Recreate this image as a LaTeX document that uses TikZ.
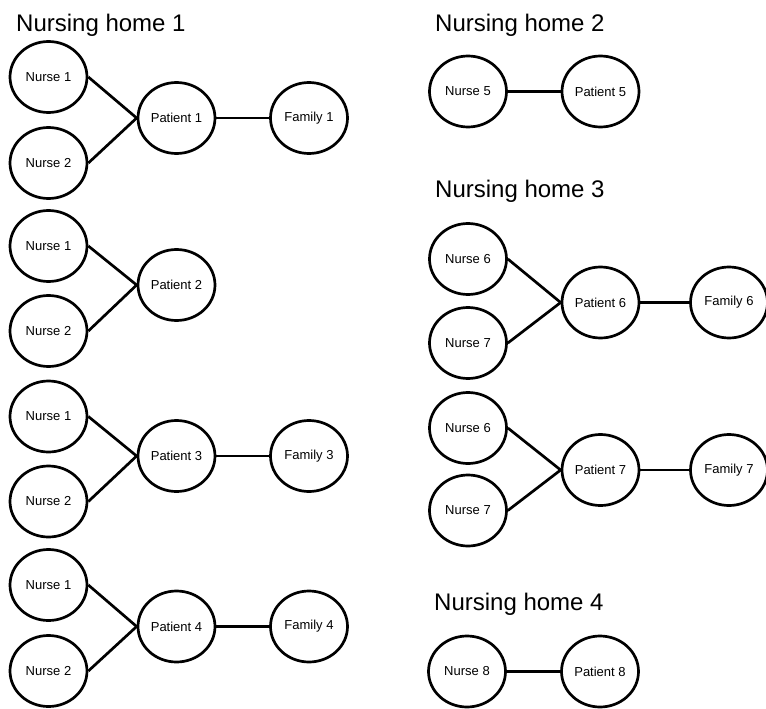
\documentclass[tikz,border=0pt]{standalone}
\usepackage{fontspec}
\setmainfont{Liberation Sans}
\usetikzlibrary{shapes.geometric}
\begin{document}
\begin{tikzpicture}[x=1pt,y=-1pt,
  person/.style={ellipse,draw=black,line width=2.7pt,minimum width=77pt,minimum height=71pt,inner sep=0pt,font=\fontsize{13}{15}\selectfont},
  title/.style={anchor=base west,inner sep=0pt,font=\fontsize{24}{28}\selectfont},
  link/.style={line width=2.7pt}]
\useasboundingbox (0,0) rectangle (766,709);
% Left column
\node[title] (t1) at (16,32) {Nursing home 1};
% group 1
\node[person] (a1) at (48.5,77) {Nurse 1};
\node[person] (a2) at (48.5,163) {Nurse 2};
\node[person] (ap) at (176.5,118) {Patient 1};
\node[person] (af) at (309,118) {Family 1};
\draw[link] (a1.east) -- (ap.west);
\draw[link] (a2.east) -- (ap.west);
\draw[link] (ap) -- (af);
% group 2
\node[person] (b1) at (48.5,246) {Nurse 1};
\node[person] (b2) at (48.5,331) {Nurse 2};
\node[person] (bp) at (176.5,285) {Patient 2};
\draw[link] (b1.east) -- (bp.west);
\draw[link] (b2.east) -- (bp.west);
% group 3
\node[person] (c1) at (48.5,416.5) {Nurse 1};
\node[person] (c2) at (48.5,501.5) {Nurse 2};
\node[person] (cp) at (176.5,456) {Patient 3};
\node[person] (cf) at (309,456) {Family 3};
\draw[link] (c1.east) -- (cp.west);
\draw[link] (c2.east) -- (cp.west);
\draw[link] (cp) -- (cf);
% group 4
\node[person] (d1) at (48.5,585) {Nurse 1};
\node[person] (d2) at (48.5,671) {Nurse 2};
\node[person] (dp) at (176.5,626.5) {Patient 4};
\node[person] (df) at (309,626.5) {Family 4};
\draw[link] (d1.east) -- (dp.west);
\draw[link] (d2.east) -- (dp.west);
\draw[link] (dp) -- (df);
% Right column
\node[title] (t2) at (435,32) {Nursing home 2};
\node[person] (e1) at (468,91.5) {Nurse 5};
\node[person] (ep) at (600.5,91.5) {Patient 5};
\draw[link] (e1) -- (ep);
\node[title] (t3) at (435,197) {Nursing home 3};
\node[person] (f1) at (468,259) {Nurse 6};
\node[person] (f2) at (468,343) {Nurse 7};
\node[person] (fp) at (600.5,302.5) {Patient 6};
\node[person] (ff) at (729,302.5) {Family 6};
\draw[link] (f1.east) -- (fp.west);
\draw[link] (f2.east) -- (fp.west);
\draw[link] (fp) -- (ff);
\node[person] (g1) at (468,428) {Nurse 6};
\node[person] (g2) at (468,510.5) {Nurse 7};
\node[person] (gp) at (600.5,470) {Patient 7};
\node[person] (gf) at (729,470) {Family 7};
\draw[link] (g1.east) -- (gp.west);
\draw[link] (g2.east) -- (gp.west);
\draw[link] (gp) -- (gf);
\node[title] (t4) at (434,610) {Nursing home 4};
\node[person] (h1) at (467,671.5) {Nurse 8};
\node[person] (hp) at (600,671.5) {Patient 8};
\draw[link] (h1) -- (hp);
\end{tikzpicture}
\end{document}
